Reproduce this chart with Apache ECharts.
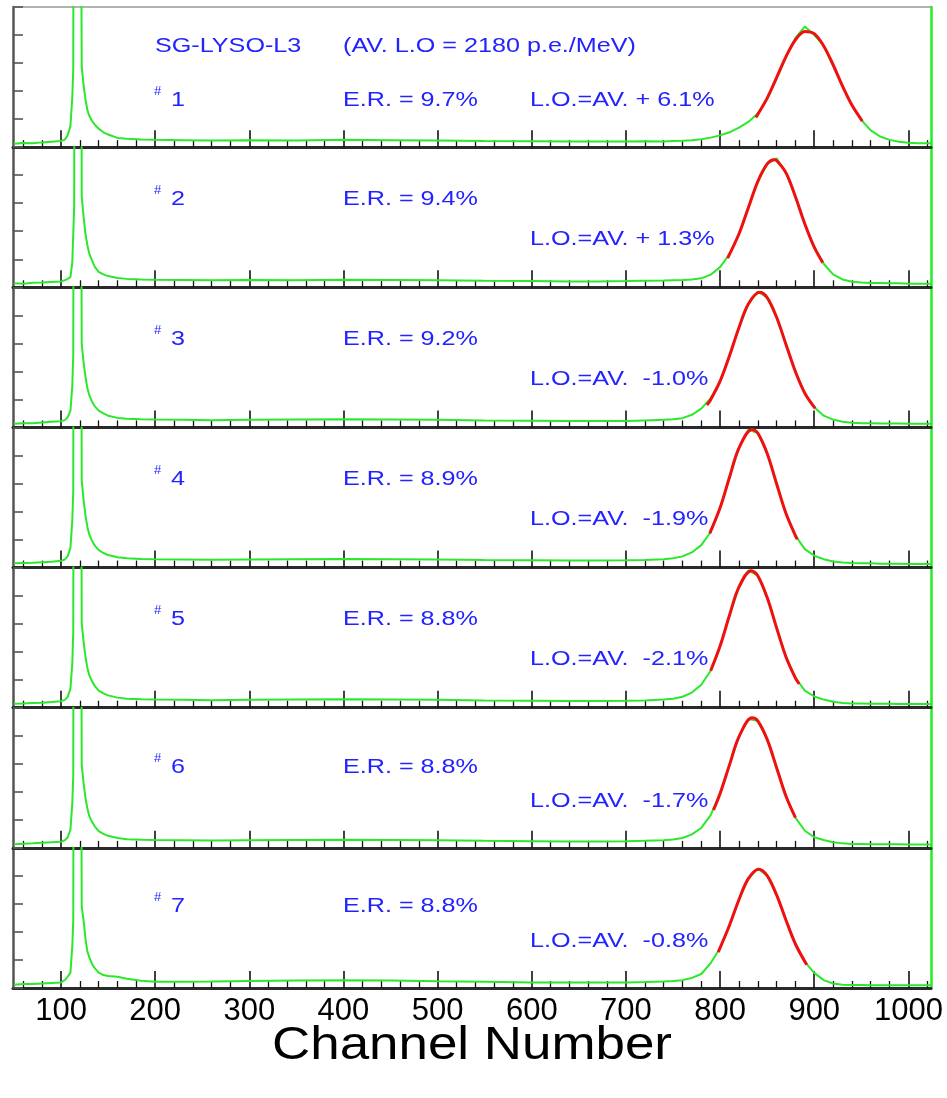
<!DOCTYPE html>
<html><head><meta charset="utf-8">
<script src="https://cdn.jsdelivr.net/npm/echarts@6/dist/echarts.min.js"></script>
<style>html,body{margin:0;padding:0;background:#fff}#c{width:947px;height:1098px}</style>
</head><body><div id="c"></div>
<script>
// ---------- data ----------
const chan = [50,60,70,80,90,100,104,107,110,112,113,114,115,117,119,120,121,122,124,126,128,130,133,136,140,145,150,160,170,185,200,230,260,300,350,400,450,500,550,600,640,670,
  700,720,740,750,760,770,780,790,800,810,820,830,840,850,860,870,880,890,900,910,920,930,940,950,960,970,980,990,1000,1010,1024];

const counts1 = [0.12,0.15,0.14,0.17,0.19,0.22, 0.27,0.42,0.75,1.8,2.8,25, 60,90,70,40,10,2.87, 2.2,1.7,1.32,1.12,0.93,0.8,0.66,0.53,0.45, 0.33,0.3,0.27,0.26,0.25,0.24, 0.25,0.24,0.26,0.25,0.24,0.22,0.21,0.2,0.2,
  0.2,0.21,0.2,0.22,0.23,0.25,0.28,0.34,0.42,0.53,0.7,0.9,1.2,1.72,2.45,3.22,3.9,4.3,4.0,3.62,2.92,2.18,1.48,0.97,0.6,0.38,0.26,0.19,0.16,0.14,0.14];
const counts2 = [0.14,0.13,0.16,0.17,0.19,0.21, 0.25,0.3,0.36,0.9,1.9,2.9, 40,90,80,50,20,3.24, 2.5,1.9,1.5,1.2,0.95,0.72,0.55,0.46,0.4, 0.33,0.3,0.28,0.27,0.26,0.25, 0.26,0.25,0.27,0.26,0.25,0.23,0.22,0.21,0.21,
  0.22,0.23,0.24,0.25,0.26,0.28,0.32,0.45,0.72,1.18,1.9,2.84,3.77,4.4,4.6,4.08,3.23,2.26,1.43,0.84,0.46,0.28,0.2,0.17,0.15,0.15,0.14,0.14,0.13,0.13,0.13];
const counts3 = [0.13,0.15,0.15,0.18,0.2,0.22, 0.26,0.36,0.6,1.5,2.6,22, 70,95,75,45,12,3.0, 2.3,1.8,1.4,1.15,0.92,0.75,0.6,0.5,0.42, 0.34,0.31,0.29,0.28,0.27,0.26, 0.27,0.28,0.29,0.28,0.27,0.25,0.24,0.23,0.23,
  0.23,0.25,0.27,0.29,0.33,0.45,0.67,1.04,1.65,2.56,3.56,4.4,4.85,4.63,3.93,2.96,1.99,1.22,0.72,0.42,0.28,0.2,0.17,0.15,0.15,0.14,0.14,0.14,0.13,0.13,0.13];
const counts4 = [0.15,0.16,0.17,0.19,0.21,0.24, 0.29,0.4,0.7,1.7,2.7,28, 75,95,80,50,15,3.1, 2.4,1.85,1.45,1.18,0.95,0.78,0.62,0.52,0.45, 0.37,0.33,0.31,0.3,0.29,0.28, 0.29,0.3,0.31,0.3,0.29,0.27,0.26,0.25,0.25,
  0.26,0.27,0.3,0.33,0.4,0.54,0.8,1.27,2.13,3.22,4.26,4.92,4.8,4.07,2.99,1.93,1.14,0.66,0.42,0.3,0.22,0.18,0.16,0.15,0.15,0.14,0.14,0.14,0.13,0.13,0.13];
const counts5 = [0.14,0.15,0.17,0.18,0.2,0.23, 0.28,0.38,0.68,1.6,2.7,26, 72,95,80,48,14,3.0, 2.35,1.8,1.42,1.16,0.94,0.77,0.61,0.51,0.44, 0.36,0.32,0.3,0.29,0.28,0.27, 0.28,0.29,0.3,0.29,0.28,0.26,0.25,0.24,0.24,
  0.25,0.26,0.29,0.32,0.39,0.54,0.82,1.32,2.2,3.3,4.3,4.9,4.71,3.93,2.85,1.81,1.06,0.61,0.4,0.29,0.21,0.17,0.15,0.15,0.14,0.14,0.14,0.13,0.13,0.13,0.13];
const counts6 = [0.13,0.15,0.16,0.18,0.2,0.22, 0.27,0.37,0.65,1.6,2.6,24, 70,92,78,46,13,2.95, 2.3,1.78,1.4,1.14,0.92,0.76,0.6,0.5,0.43, 0.35,0.31,0.29,0.28,0.27,0.26, 0.27,0.28,0.29,0.28,0.27,0.25,0.24,0.23,0.23,
  0.24,0.25,0.27,0.3,0.35,0.48,0.71,1.17,1.94,2.96,3.96,4.6,4.53,3.87,2.86,1.84,1.08,0.61,0.38,0.28,0.2,0.16,0.14,0.14,0.13,0.13,0.13,0.13,0.12,0.12,0.12];
const counts7 = [0.12,0.14,0.14,0.16,0.18,0.2, 0.28,0.4,0.55,1.5,2.43,20, 65,90,75,45,12,2.9, 2.4,1.75,1.3,1.1,0.85,0.7,0.55,0.46,0.43, 0.4,0.33,0.26,0.22,0.22,0.23, 0.25,0.27,0.28,0.27,0.24,0.22,0.2,0.2,0.2,
  0.2,0.21,0.23,0.25,0.28,0.36,0.5,0.89,1.42,2.24,3.15,3.9,4.26,4.01,3.32,2.42,1.57,0.93,0.54,0.28,0.16,0.12,0.11,0.11,0.1,0.1,0.1,0.1,0.1,0.1,0.1];

const fit1 = [[838,1.06],[850,1.75],[860,2.48],[870,3.23],[880,3.83],[890,4.13],[900,4.05],[910,3.61],[920,2.94],[930,2.18],[940,1.5],[951,0.93]];
const fit2 = [[808,1.04],[820,1.9],[830,2.84],[840,3.77],[850,4.4],[857,4.55],[860,4.52],[870,4.08],[880,3.23],[890,2.26],[900,1.43],[909,0.88]];
const fit3 = [[786,0.8],[790,0.99],[800,1.65],[810,2.56],[820,3.56],[830,4.4],[842,4.82],[850,4.63],[860,3.93],[870,2.96],[880,1.99],[890,1.22],[901,0.68]];
const fit4 = [[789,1.22],[800,2.13],[810,3.22],[820,4.26],[834,4.93],[840,4.8],[850,4.07],[860,2.99],[870,1.93],[880,1.14],[882,1.01]];
const fit5 = [[790,1.32],[800,2.2],[810,3.3],[820,4.3],[833,4.89],[840,4.71],[850,3.93],[860,2.85],[870,1.81],[880,1.06],[884,0.85]];
const fit6 = [[793,1.35],[800,1.94],[810,2.96],[820,3.96],[834,4.64],[840,4.53],[850,3.87],[860,2.86],[870,1.84],[880,1.08]];
const fit7 = [[798,1.28],[810,2.24],[820,3.15],[830,3.9],[841,4.24],[850,4.01],[860,3.32],[870,2.42],[880,1.57],[892,0.83]];

const crystalIds = ['1','2','3','4','5','6','7'];
const erLabels = ['E.R. = 9.7%','E.R. = 9.4%','E.R. = 9.2%','E.R. = 8.9%','E.R. = 8.8%','E.R. = 8.8%','E.R. = 8.8%'];
const loLabels = ['L.O.=AV. + 6.1%','L.O.=AV. + 1.3%','L.O.=AV.  -1.0%','L.O.=AV.  -1.9%','L.O.=AV.  -2.1%','L.O.=AV.  -1.7%','L.O.=AV.  -0.8%'];
const sampleName = 'SG-LYSO-L3';
const avgLabel = '(AV. L.O = 2180 p.e./MeV)';
const xTitle = 'Channel Number';
const majorTicks = [100,200,300,400,500,600,700,800,900,1000];
const minorTicks = [];
for (let v = 60; v <= 1020; v += 20) if (v % 100 !== 0) minorTicks.push(v);

// ---------- layout ----------
const counts = [counts1,counts2,counts3,counts4,counts5,counts6,counts7];
const fits = [fit1,fit2,fit3,fit4,fit5,fit6,fit7];
const N = 7, TOP = 7, PH = 981 / N, LEFT = 13, RIGHT = 16;
const XMIN = 49, XMAX = 1024;
const idRowY = [101,200,340,480,620,768,907];
const loRowY = [101,240,380,520,660,802,942];
const loX = [530,530,530,530,530,530,530];
const BLUE = '#2323ff';
const FONT = '"Liberation Sans", Arial, sans-serif';
const SX = 1.29;

const grids = [], xAxes = [], yAxes = [], series = [], graphics = [];
for (let i = 0; i < N; i++) {
  grids.push({left: LEFT, right: RIGHT, top: TOP + i * PH, height: PH, containLabel: false});
  xAxes.push({gridIndex: i, type: 'value', min: XMIN, max: XMAX, position: 'bottom',
    axisLine: {show: true, onZero: false, lineStyle: {color: '#2a2a2a', width: 3}},
    axisTick: {show: true, inside: true, length: 17, customValues: majorTicks, lineStyle: {color: '#111', width: 1.6}},
    axisLabel: {show: i === N - 1, customValues: majorTicks, fontSize: 31, fontFamily: FONT, color: '#000', margin: 8,
      formatter: v => String(v)},
    splitLine: {show: false}});
  xAxes.push({gridIndex: i, type: 'value', min: XMIN, max: XMAX, position: 'bottom',
    axisLine: {show: false},
    axisTick: {show: true, inside: true, length: 7, customValues: minorTicks, lineStyle: {color: '#111', width: 1.3}},
    axisLabel: {show: false}, splitLine: {show: false}});
  yAxes.push({gridIndex: i, type: 'value', min: 0, max: 5, interval: 1, position: 'left',
    axisLine: {show: true, onZero: false, lineStyle: {color: '#555', width: 2.5}},
    axisTick: {show: true, inside: true, length: 10, lineStyle: {color: '#555', width: 1.6}},
    axisLabel: {show: false}, splitLine: {show: false}});
  yAxes.push({gridIndex: i, type: 'value', min: 0, max: 5, position: 'right',
    axisLine: {show: true, onZero: false, lineStyle: {color: '#22ee22', width: 2.5}},
    axisTick: {show: false}, axisLabel: {show: false}, splitLine: {show: false}});
  series.push({type: 'line', xAxisIndex: 2 * i, yAxisIndex: 2 * i, data: chan.map((c, j) => [c, counts[i][j]]),
    showSymbol: false, clip: true, lineStyle: {color: '#2be82b', width: 2}, z: 3, animation: false});
  series.push({type: 'line', xAxisIndex: 2 * i, yAxisIndex: 2 * i, data: fits[i], smooth: 0.35,
    showSymbol: false, clip: true, lineStyle: {color: '#f01010', width: 3}, z: 4, animation: false});

  // labels
  graphics.push({type: 'text', x: 154, y: idRowY[i] - 10, style: {text: '#', font: '13px ' + FONT, fill: BLUE, textVerticalAlign: 'middle', verticalAlign: 'middle'}});
  graphics.push({type: 'text', x: 171, y: idRowY[i], scaleX: SX, style: {text: crystalIds[i], font: '19.5px ' + FONT, fill: BLUE, textVerticalAlign: 'middle', verticalAlign: 'middle'}});
  graphics.push({type: 'text', x: 343, y: idRowY[i], scaleX: SX, style: {text: erLabels[i], font: '19.5px ' + FONT, fill: BLUE, textVerticalAlign: 'middle', verticalAlign: 'middle'}});
  graphics.push({type: 'text', x: loX[i], y: loRowY[i], scaleX: SX, style: {text: loLabels[i], font: '19.5px ' + FONT, fill: BLUE, textVerticalAlign: 'middle', verticalAlign: 'middle'}});
}
// top frame of first panel
xAxes.push({gridIndex: 0, type: 'value', min: XMIN, max: XMAX, position: 'top',
  axisLine: {show: true, onZero: false, lineStyle: {color: '#9a9a9a', width: 1.5}},
  axisTick: {show: false}, axisLabel: {show: false}, splitLine: {show: false}});

graphics.push({type: 'text', x: 155, y: 47, scaleX: SX, style: {text: sampleName, font: '19.5px ' + FONT, fill: BLUE, textVerticalAlign: 'middle', verticalAlign: 'middle'}});
graphics.push({type: 'text', x: 343, y: 47, scaleX: SX, style: {text: avgLabel, font: '19.5px ' + FONT, fill: BLUE, textVerticalAlign: 'middle', verticalAlign: 'middle'}});
graphics.push({type: 'text', x: 472, y: 1046, scaleX: 1.15, style: {text: xTitle, font: '46px ' + FONT, fill: '#000', textAlign: 'center', align: 'center', textVerticalAlign: 'middle', verticalAlign: 'middle'}});

const chart = echarts.init(document.getElementById('c'), null, {renderer: 'canvas'});
chart.setOption({animation: false, backgroundColor: '#fff', grid: grids, xAxis: xAxes, yAxis: yAxes, series: series, graphic: graphics});
</script></body></html>
